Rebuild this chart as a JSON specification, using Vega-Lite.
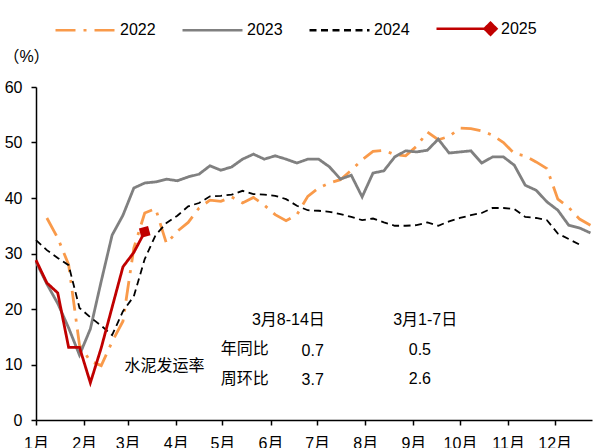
{
  "$schema": "https://vega.github.io/schema/vega-lite/v6.json",
  "width": 556,
  "height": 333,
  "autosize": {"type": "none"},
  "padding": {"left": 36, "top": 87, "right": 12, "bottom": 28},
  "background": "white",
  "config": {
    "view": {"stroke": null},
    "font": "Liberation Sans, Noto Sans CJK SC",
    "axis": {"grid": false, "domainColor": "black", "tickColor": "black", "labelColor": "black", "titleColor": "black", "domainWidth": 1.5, "tickWidth": 1.5, "tickSize": 5, "labelFontSize": 16, "labelFont": "Liberation Sans, Noto Sans CJK SC"}
  },
  "datasets": {
    "series": [
      {"year": "2022", "date": "2025-01-08", "value": 36.4},
      {"year": "2022", "date": "2025-01-15", "value": 32.8},
      {"year": "2022", "date": "2025-01-22", "value": 28.0},
      {"year": "2022", "date": "2025-01-29", "value": 13.5},
      {"year": "2022", "date": "2025-02-05", "value": 10.6},
      {"year": "2022", "date": "2025-02-12", "value": 9.8},
      {"year": "2022", "date": "2025-02-19", "value": 14.1},
      {"year": "2022", "date": "2025-02-26", "value": 17.8},
      {"year": "2022", "date": "2025-03-05", "value": 31.0},
      {"year": "2022", "date": "2025-03-12", "value": 37.3},
      {"year": "2022", "date": "2025-03-19", "value": 38.1},
      {"year": "2022", "date": "2025-03-26", "value": 31.8},
      {"year": "2022", "date": "2025-04-02", "value": 34.0},
      {"year": "2022", "date": "2025-04-09", "value": 35.6},
      {"year": "2022", "date": "2025-04-16", "value": 38.2},
      {"year": "2022", "date": "2025-04-23", "value": 39.6},
      {"year": "2022", "date": "2025-04-30", "value": 39.4},
      {"year": "2022", "date": "2025-05-07", "value": 40.2},
      {"year": "2022", "date": "2025-05-14", "value": 39.1},
      {"year": "2022", "date": "2025-05-21", "value": 40.1},
      {"year": "2022", "date": "2025-05-28", "value": 38.7},
      {"year": "2022", "date": "2025-06-04", "value": 37.0},
      {"year": "2022", "date": "2025-06-11", "value": 35.9},
      {"year": "2022", "date": "2025-06-18", "value": 37.0},
      {"year": "2022", "date": "2025-06-25", "value": 40.3},
      {"year": "2022", "date": "2025-07-02", "value": 41.8},
      {"year": "2022", "date": "2025-07-09", "value": 42.7},
      {"year": "2022", "date": "2025-07-16", "value": 43.3},
      {"year": "2022", "date": "2025-07-23", "value": 45.0},
      {"year": "2022", "date": "2025-07-30", "value": 46.9},
      {"year": "2022", "date": "2025-08-06", "value": 48.4},
      {"year": "2022", "date": "2025-08-13", "value": 48.6},
      {"year": "2022", "date": "2025-08-20", "value": 47.8},
      {"year": "2022", "date": "2025-08-27", "value": 47.6},
      {"year": "2022", "date": "2025-09-03", "value": 49.3},
      {"year": "2022", "date": "2025-09-10", "value": 51.9},
      {"year": "2022", "date": "2025-09-17", "value": 50.5},
      {"year": "2022", "date": "2025-09-24", "value": 51.1},
      {"year": "2022", "date": "2025-10-01", "value": 52.6},
      {"year": "2022", "date": "2025-10-08", "value": 52.5},
      {"year": "2022", "date": "2025-10-15", "value": 52.1},
      {"year": "2022", "date": "2025-10-22", "value": 51.3},
      {"year": "2022", "date": "2025-10-29", "value": 50.0},
      {"year": "2022", "date": "2025-11-05", "value": 48.0},
      {"year": "2022", "date": "2025-11-12", "value": 47.6},
      {"year": "2022", "date": "2025-11-19", "value": 46.5},
      {"year": "2022", "date": "2025-11-26", "value": 45.3},
      {"year": "2022", "date": "2025-12-03", "value": 39.8},
      {"year": "2022", "date": "2025-12-10", "value": 38.3},
      {"year": "2022", "date": "2025-12-17", "value": 36.2},
      {"year": "2022", "date": "2025-12-24", "value": 35.1},

      {"year": "2023", "date": "2025-01-01", "value": 28.5},
      {"year": "2023", "date": "2025-01-08", "value": 24.5},
      {"year": "2023", "date": "2025-01-15", "value": 21.0},
      {"year": "2023", "date": "2025-01-22", "value": 16.6},
      {"year": "2023", "date": "2025-01-29", "value": 11.7},
      {"year": "2023", "date": "2025-02-05", "value": 16.4},
      {"year": "2023", "date": "2025-02-12", "value": 25.0},
      {"year": "2023", "date": "2025-02-19", "value": 33.3},
      {"year": "2023", "date": "2025-02-26", "value": 36.9},
      {"year": "2023", "date": "2025-03-05", "value": 41.8},
      {"year": "2023", "date": "2025-03-12", "value": 42.7},
      {"year": "2023", "date": "2025-03-19", "value": 42.9},
      {"year": "2023", "date": "2025-03-26", "value": 43.4},
      {"year": "2023", "date": "2025-04-02", "value": 43.1},
      {"year": "2023", "date": "2025-04-09", "value": 43.8},
      {"year": "2023", "date": "2025-04-16", "value": 44.3},
      {"year": "2023", "date": "2025-04-23", "value": 45.8},
      {"year": "2023", "date": "2025-04-30", "value": 45.0},
      {"year": "2023", "date": "2025-05-07", "value": 45.6},
      {"year": "2023", "date": "2025-05-14", "value": 47.0},
      {"year": "2023", "date": "2025-05-21", "value": 47.9},
      {"year": "2023", "date": "2025-05-28", "value": 47.0},
      {"year": "2023", "date": "2025-06-04", "value": 47.6},
      {"year": "2023", "date": "2025-06-11", "value": 47.0},
      {"year": "2023", "date": "2025-06-18", "value": 46.3},
      {"year": "2023", "date": "2025-06-25", "value": 47.0},
      {"year": "2023", "date": "2025-07-02", "value": 47.0},
      {"year": "2023", "date": "2025-07-09", "value": 45.6},
      {"year": "2023", "date": "2025-07-16", "value": 43.4},
      {"year": "2023", "date": "2025-07-23", "value": 44.1},
      {"year": "2023", "date": "2025-07-30", "value": 40.2},
      {"year": "2023", "date": "2025-08-06", "value": 44.5},
      {"year": "2023", "date": "2025-08-13", "value": 44.9},
      {"year": "2023", "date": "2025-08-20", "value": 47.4},
      {"year": "2023", "date": "2025-08-27", "value": 48.5},
      {"year": "2023", "date": "2025-09-03", "value": 48.3},
      {"year": "2023", "date": "2025-09-10", "value": 48.6},
      {"year": "2023", "date": "2025-09-17", "value": 50.6},
      {"year": "2023", "date": "2025-09-24", "value": 48.1},
      {"year": "2023", "date": "2025-10-01", "value": 48.3},
      {"year": "2023", "date": "2025-10-08", "value": 48.5},
      {"year": "2023", "date": "2025-10-15", "value": 46.3},
      {"year": "2023", "date": "2025-10-22", "value": 47.4},
      {"year": "2023", "date": "2025-10-29", "value": 47.4},
      {"year": "2023", "date": "2025-11-05", "value": 45.9},
      {"year": "2023", "date": "2025-11-12", "value": 42.3},
      {"year": "2023", "date": "2025-11-19", "value": 41.4},
      {"year": "2023", "date": "2025-11-26", "value": 39.3},
      {"year": "2023", "date": "2025-12-03", "value": 37.8},
      {"year": "2023", "date": "2025-12-10", "value": 35.1},
      {"year": "2023", "date": "2025-12-17", "value": 34.6},
      {"year": "2023", "date": "2025-12-24", "value": 33.7},

      {"year": "2024", "date": "2025-01-01", "value": 32.4},
      {"year": "2024", "date": "2025-01-08", "value": 30.6},
      {"year": "2024", "date": "2025-01-15", "value": 29.2},
      {"year": "2024", "date": "2025-01-22", "value": 27.9},
      {"year": "2024", "date": "2025-01-29", "value": 20.2},
      {"year": "2024", "date": "2025-02-05", "value": 18.5},
      {"year": "2024", "date": "2025-02-12", "value": 17.0},
      {"year": "2024", "date": "2025-02-19", "value": 15.3},
      {"year": "2024", "date": "2025-02-26", "value": 19.6},
      {"year": "2024", "date": "2025-03-05", "value": 22.3},
      {"year": "2024", "date": "2025-03-12", "value": 29.0},
      {"year": "2024", "date": "2025-03-19", "value": 33.3},
      {"year": "2024", "date": "2025-03-26", "value": 35.5},
      {"year": "2024", "date": "2025-04-02", "value": 36.8},
      {"year": "2024", "date": "2025-04-09", "value": 38.5},
      {"year": "2024", "date": "2025-04-16", "value": 39.1},
      {"year": "2024", "date": "2025-04-23", "value": 40.3},
      {"year": "2024", "date": "2025-04-30", "value": 40.4},
      {"year": "2024", "date": "2025-05-07", "value": 40.6},
      {"year": "2024", "date": "2025-05-14", "value": 41.3},
      {"year": "2024", "date": "2025-05-21", "value": 40.7},
      {"year": "2024", "date": "2025-05-28", "value": 40.6},
      {"year": "2024", "date": "2025-06-04", "value": 40.4},
      {"year": "2024", "date": "2025-06-11", "value": 39.8},
      {"year": "2024", "date": "2025-06-18", "value": 38.6},
      {"year": "2024", "date": "2025-06-25", "value": 37.8},
      {"year": "2024", "date": "2025-07-02", "value": 37.7},
      {"year": "2024", "date": "2025-07-09", "value": 37.5},
      {"year": "2024", "date": "2025-07-16", "value": 37.1},
      {"year": "2024", "date": "2025-07-23", "value": 36.6},
      {"year": "2024", "date": "2025-07-30", "value": 36.0},
      {"year": "2024", "date": "2025-08-06", "value": 36.3},
      {"year": "2024", "date": "2025-08-13", "value": 35.6},
      {"year": "2024", "date": "2025-08-20", "value": 35.0},
      {"year": "2024", "date": "2025-08-27", "value": 35.0},
      {"year": "2024", "date": "2025-09-03", "value": 35.1},
      {"year": "2024", "date": "2025-09-10", "value": 35.6},
      {"year": "2024", "date": "2025-09-17", "value": 35.0},
      {"year": "2024", "date": "2025-09-24", "value": 35.8},
      {"year": "2024", "date": "2025-10-01", "value": 36.4},
      {"year": "2024", "date": "2025-10-08", "value": 36.9},
      {"year": "2024", "date": "2025-10-15", "value": 37.3},
      {"year": "2024", "date": "2025-10-22", "value": 38.2},
      {"year": "2024", "date": "2025-10-29", "value": 38.2},
      {"year": "2024", "date": "2025-11-05", "value": 38.0},
      {"year": "2024", "date": "2025-11-12", "value": 36.6},
      {"year": "2024", "date": "2025-11-19", "value": 36.4},
      {"year": "2024", "date": "2025-11-26", "value": 36.0},
      {"year": "2024", "date": "2025-12-03", "value": 33.6},
      {"year": "2024", "date": "2025-12-10", "value": 32.6},
      {"year": "2024", "date": "2025-12-17", "value": 31.6},

      {"year": "2025", "date": "2025-01-01", "value": 28.8},
      {"year": "2025", "date": "2025-01-08", "value": 24.7},
      {"year": "2025", "date": "2025-01-15", "value": 22.9},
      {"year": "2025", "date": "2025-01-22", "value": 13.1},
      {"year": "2025", "date": "2025-01-29", "value": 13.1},
      {"year": "2025", "date": "2025-02-05", "value": 6.7},
      {"year": "2025", "date": "2025-02-12", "value": 13.0},
      {"year": "2025", "date": "2025-02-19", "value": 20.3},
      {"year": "2025", "date": "2025-02-26", "value": 27.6},
      {"year": "2025", "date": "2025-03-05", "value": 30.2},
      {"year": "2025", "date": "2025-03-12", "value": 33.9}
    ],
    "notes": [
      {"label": "水泥发运率", "date": "2025-02-27", "value": 9.7},
      {"label": "年同比", "date": "2025-04-30", "value": 12.8},
      {"label": "周环比", "date": "2025-04-30", "value": 7.4},
      {"label": "3月8-14日", "date": "2025-05-20", "value": 18.0},
      {"label": "3月1-7日", "date": "2025-08-19", "value": 18.0},
      {"label": "0.7", "date": "2025-06-21", "value": 12.4},
      {"label": "3.7", "date": "2025-06-21", "value": 7.2},
      {"label": "0.5", "date": "2025-08-29", "value": 12.7},
      {"label": "2.6", "date": "2025-08-29", "value": 7.4}
    ]
  },
  "layer": [
    {
      "data": {"name": "series"},
      "mark": {"type": "line"},
      "encoding": {
        "x": {
          "field": "date", "type": "temporal",
          "scale": {"type": "utc", "domain": [{"year": 2025, "month": 1, "date": 1, "utc": true}, {"year": 2025, "month": 12, "date": 25, "utc": true}]},
          "axis": {"title": null, "labelExpr": "utcFormat(datum.value, '%-m') + '月'", "tickCount": {"interval": "month", "step": 1}, "labelPadding": 10, "labelOverlap": false, "labelFlush": false}
        },
        "y": {
          "field": "value", "type": "quantitative",
          "scale": {"domain": [0, 60], "nice": false},
          "axis": {"title": "（%）", "titleAngle": 0, "titleX": -10, "titleY": -31, "titleAlign": "center", "titleBaseline": "middle", "titleFontSize": 16, "titleFontWeight": "normal", "titleFont": "Liberation Sans, Noto Sans CJK SC", "values": [0, 10, 20, 30, 40, 50, 60], "labelPadding": 9}
        },
        "color": {
          "field": "year", "type": "nominal",
          "scale": {"domain": ["2022", "2023", "2024", "2025"], "range": ["#F99A4A", "#808080", "#000000", "#C00000"]},
          "legend": {
            "orient": "none", "legendX": 18, "legendY": -90, "direction": "horizontal", "title": null,
            "symbolType": "stroke", "symbolSize": 3600, "symbolStrokeWidth": 2.5,
            "labelFontSize": 16, "labelFont": "Liberation Sans", "labelColor": "black", "labelOffset": 3,
            "columnPadding": 21, "padding": 0, "gridAlign": "all",
            "encode": {"symbols": {"update": {
              "shape": {"signal": "datum.value === '2025' ? 'M-1,0L0.8,0M0.8,-0.2L1,0L0.8,0.2L0.6,0Z' : 'stroke'"},
              "fill": {"signal": "datum.value === '2025' ? '#C00000' : 'transparent'"}
            }}}
          }
        },
        "strokeDash": {
          "field": "year", "type": "nominal",
          "scale": {"domain": ["2022", "2023", "2024", "2025"], "range": [[20, 8, 3, 8], [1, 0], [7, 4.5], [1, 0]]}
        },
        "strokeWidth": {"condition": {"test": "datum.year === '2024'", "value": 1.8}, "value": 2.8}
      }
    },
    {
      "data": {"name": "series"},
      "transform": [{"filter": "datum.year === '2025' && datum.value === 33.9"}],
      "mark": {"type": "point", "shape": "square", "angle": -15, "size": 90, "filled": true, "color": "#C00000", "opacity": 1},
      "encoding": {
        "x": {"field": "date", "type": "temporal"},
        "y": {"field": "value", "type": "quantitative"}
      }
    },
    {
      "data": {"name": "notes"},
      "mark": {"type": "text", "align": "left", "baseline": "middle", "fontSize": 16, "font": "Liberation Sans, Noto Sans CJK SC", "color": "black"},
      "encoding": {
        "x": {"field": "date", "type": "temporal"},
        "y": {"field": "value", "type": "quantitative"},
        "text": {"field": "label"}
      }
    }
  ]
}
